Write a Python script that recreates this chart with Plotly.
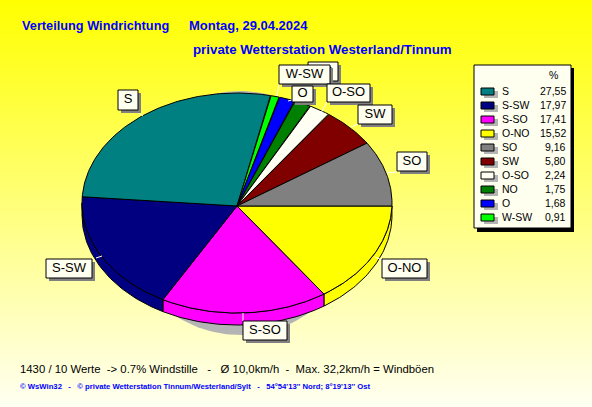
import numpy as np
import plotly.graph_objects as go

# --- data ---
categories = ["S", "S-SW", "S-SO", "O-NO", "SO", "SW", "O-SO", "NO", "O", "W-SW"]
values = [27.55, 17.97, 17.41, 15.52, 9.16, 5.80, 2.24, 1.75, 1.68, 0.91]
colors = ["#008080", "#000080", "#ff00ff", "#ffff00", "#808080", "#800000", "#fffff4", "#008000", "#0000ff", "#00ff00"]
# clockwise from east, as the slices are arranged in the pie
pie_order = ["O-NO", "S-SO", "S-SW", "S", "W-SW", "O", "NO", "O-SO", "SW", "SO"]

# --- layout constants (pixels) ---
W, H = 592, 407
CX, APEX_Y, ELL_Y, RX, RY, DEPTH = 237, 206, 203, 155, 110, 12
BOX_FILL = "#fffff0"
FONT = "Liberation Sans"
BLUE = "#0000ff"
# label: (x0, y0, x1, y1, leader x0, leader y0, leader x1, leader y1), in stacking order
label_boxes = {
    "NO": (308, 62, 338, 81, 300, 90, 308, 81),
    "W-SW": (279, 65, 330, 84, 277, 96, 279, 84),
    "O": (292, 86, 313, 102, 288, 101, 292, 100),
    "O-SO": (327, 84, 370, 102, 321, 113, 327, 102),
    "SW": (358, 105, 392, 124, 351, 127, 358, 124),
    "SO": (397, 152, 427, 171, 387, 173, 397, 172),
    "O-NO": (382, 259, 427, 278, 375, 257, 382, 260),
    "S-SO": (243, 321, 287, 340, 243, 313, 243, 321),
    "S-SW": (46, 259, 92, 278, 96, 258, 102, 256),
    "S": (118, 90, 138, 110, 139, 113, 143, 116),
}

fig = go.Figure()


def poly(xs, ys, fill, line="black", width=1):
    fig.add_trace(go.Scatter(
        x=list(xs), y=list(ys), mode="lines", fill="toself", fillcolor=fill,
        line=dict(color=line, width=width), hoverinfo="skip", showlegend=False))


def rect(x0, y0, x1, y1, fill, line="black", width=1):
    poly([x0, x1, x1, x0, x0], [y0, y0, y1, y1, y0], fill, line, width)


# background gradient
fig.add_trace(go.Scatter(
    x=[0, W, W, 0, 0], y=[0, 0, H, H, 0], mode="lines", fill="toself",
    line=dict(width=0), hoverinfo="skip", showlegend=False,
    fillgradient=dict(type="vertical", start=0, stop=H,
                      colorscale=[[0, "#ffff00"], [1, "#fffff2"]])))

# pie shadow
t = np.linspace(0, 2 * np.pi, 180)
poly(240 + 120 * np.cos(t), 213 + 122 * np.sin(t), "#b4b4b4", "rgba(0,0,0,0)", 0)

# slices
lookup = dict(zip(categories, values))
color_of = dict(zip(categories, colors))
total = sum(values)
start = 0.0
arcs = []
for name in pie_order:
    sweep = lookup[name] / total * 2 * np.pi
    arcs.append([name, start, start + sweep])
    start += sweep
# the east boundary runs level with the apex
east = np.arcsin((APEX_Y - ELL_Y) / RY)
arcs[0][1] = east
arcs[-1][2] = 2 * np.pi + east


def ell(a):
    return CX + RX * np.cos(a), ELL_Y + RY * np.sin(a)


# sides of the front half
for name, a0, a1 in arcs:
    if a0 < np.pi:
        a = np.linspace(a0, min(a1, np.pi), 60)
        ex, ey = ell(a)
        poly(np.r_[ex, ex[::-1], ex[0]], np.r_[ey, ey[::-1] + DEPTH, ey[0]], color_of[name])

# top faces
for name, a0, a1 in arcs:
    ex, ey = ell(np.linspace(a0, a1, 90))
    poly(np.r_[CX, ex, CX], np.r_[APEX_Y, ey, APEX_Y], color_of[name])

# labels with leader lines and shadows
for name, (x0, y0, x1, y1, lx0, ly0, lx1, ly1) in label_boxes.items():
    fig.add_trace(go.Scatter(x=[lx0, lx1], y=[ly0, ly1], mode="lines", line=dict(color="white", width=1),
                             hoverinfo="skip", showlegend=False))
    rect(x0 + 3, y0 + 3, x1 + 3, y1 + 3, "#808080", "#808080", 0)
    rect(x0, y0, x1, y1, BOX_FILL)
    fig.add_trace(go.Scatter(x=[(x0 + x1) / 2], y=[(y0 + y1) / 2], mode="text", text=[name],
                             textposition="middle center", textfont=dict(family=FONT, size=13, color="black"),
                             hoverinfo="skip", showlegend=False))

# legend panel
rect(477, 68, 574, 232, "black", "black", 0)
rect(474, 65, 571, 228, BOX_FILL)
row_y = [91 + 14 * i for i in range(len(categories))]
for name, val, col, y in zip(categories, values, colors, row_y):
    rect(484, y, 498, y + 7, "#b4b4b4", "#b4b4b4", 0)
    rect(481, y - 3, 494, y + 4, col)

annotations = []


def note(x, y, text, size, color="black", bold=False, anchor="left", family=FONT):
    annotations.append(dict(
        x=x, y=y, xref="x", yref="y", text=f"<b>{text}</b>" if bold else text, showarrow=False,
        xanchor=anchor, yanchor="middle", borderpad=0, borderwidth=0,
        font=dict(family=family, size=size, color=color)))


note(553, 75, "%", 10.5, anchor="center")
for name, val, y in zip(categories, values, row_y):
    note(502, y, name, 10.5)
    note(566, y, f"{val:.2f}".replace(".", ","), 10.5, anchor="right")

note(22, 25, "Verteilung Windrichtung", 12.75, BLUE, True)
note(189, 25, "Montag, 29.04.2024", 13, BLUE, True)
note(193, 49, "private Wetterstation Westerland/Tinnum", 13.3, BLUE, True)
note(20, 369, "1430 / 10 Werte\u00a0\u00a0-> 0.7% Windstille\u00a0\u00a0\u00a0-\u00a0\u00a0\u00a0\u00d8 10,0km/h\u00a0\u00a0-\u00a0\u00a0Max. 32,2km/h = Windb\u00f6en", 11.35)
note(20, 386, "\u00a9 WsWin32\u00a0\u00a0\u00a0-\u00a0\u00a0\u00a0\u00a9 private Wetterstation Tinnum/Westerland/Sylt\u00a0\u00a0\u00a0-\u00a0\u00a0\u00a054\u00b054'13'' Nord; 8\u00b019'13'' Ost", 7.7, BLUE, True)

fig.update_layout(
    width=W, height=H, autosize=False, margin=dict(l=0, r=0, t=0, b=0),
    paper_bgcolor="#ffffc0", plot_bgcolor="rgba(0,0,0,0)", showlegend=False,
    xaxis=dict(range=[0, W], visible=False, fixedrange=True),
    yaxis=dict(range=[H, 0], visible=False, fixedrange=True),
    annotations=annotations)

fig.write_html("out.html", config=dict(displayModeBar=False),
               post_script="document.body.style.margin='0';")
